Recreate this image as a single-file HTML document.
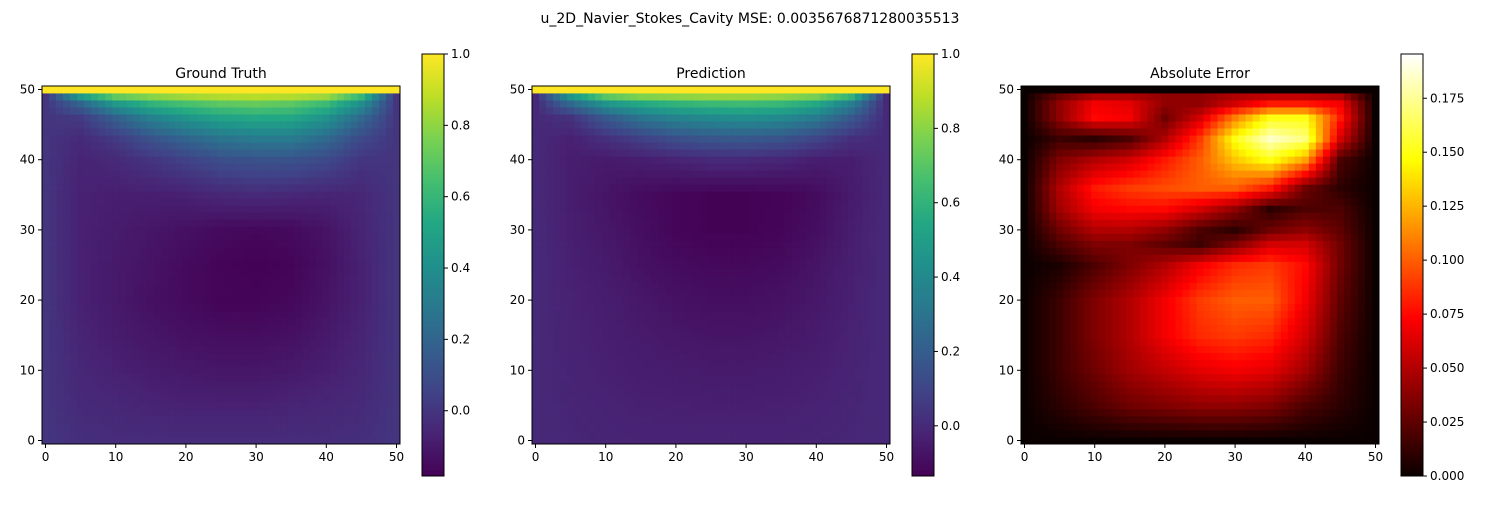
<!DOCTYPE html>
<html><head><meta charset="utf-8"><style>
body{margin:0;background:#fff;font-family:"Liberation Sans","DejaVu Sans",sans-serif}
svg text{font-family:"DejaVu Sans","Liberation Sans",sans-serif}
</style></head><body>
<svg id="chart" width="1500" height="500" viewBox="0 0 1500 500">
<text x="750" y="23" text-anchor="middle" font-size="14">u_2D_Navier_Stokes_Cavity MSE: 0.0035676871280035513</text>
</svg>
<script>
const xsGrid=[0,5,10,15,20,25,30,35,40,45,50];
const gtRowsY=[0,5,10,15,20,25,30,35,40,43,46,48,49,50];
const gtValues=[
[0,-0.02,-0.03,-0.03,-0.03,-0.03,-0.03,-0.03,-0.03,-0.02,0],
[0,-0.04,-0.05,-0.06,-0.07,-0.07,-0.07,-0.06,-0.05,-0.04,0],
[0,-0.05,-0.07,-0.09,-0.10,-0.11,-0.11,-0.10,-0.08,-0.05,0],
[0,-0.06,-0.09,-0.11,-0.13,-0.14,-0.14,-0.13,-0.10,-0.06,0],
[0,-0.07,-0.10,-0.13,-0.15,-0.17,-0.17,-0.16,-0.12,-0.07,0],
[0,-0.07,-0.10,-0.12,-0.15,-0.17,-0.18,-0.17,-0.13,-0.07,0],
[0,-0.07,-0.09,-0.11,-0.13,-0.15,-0.16,-0.15,-0.12,-0.06,0],
[0,-0.07,-0.08,-0.08,-0.07,-0.05,-0.04,-0.05,-0.06,-0.05,0],
[0,-0.06,-0.04,0,0.05,0.1,0.12,0.12,0.08,0,0],
[0,-0.04,0.02,0.12,0.2,0.27,0.3,0.3,0.22,0.08,0],
[0,0.02,0.18,0.33,0.43,0.5,0.53,0.52,0.42,0.22,0],
[0,0.2,0.45,0.58,0.65,0.7,0.72,0.7,0.62,0.4,0],
[0,0.45,0.7,0.78,0.83,0.86,0.87,0.86,0.82,0.6,0],
[1,1,1,1,1,1,1,1,1,1,1]];
const predRowsY=[0,10,20,25,30,35,40,43,46,48,49,50];
const predValues=[
[0,-0.01,-0.015,-0.02,-0.02,-0.02,-0.02,-0.02,-0.015,-0.01,0],
[0,-0.02,-0.03,-0.04,-0.045,-0.05,-0.05,-0.045,-0.035,-0.02,0],
[0,-0.025,-0.04,-0.06,-0.08,-0.09,-0.09,-0.08,-0.06,-0.03,0],
[0,-0.03,-0.05,-0.08,-0.1,-0.11,-0.11,-0.1,-0.07,-0.035,0],
[0,-0.035,-0.06,-0.09,-0.12,-0.13,-0.13,-0.12,-0.09,-0.04,0],
[0,-0.04,-0.07,-0.1,-0.12,-0.13,-0.13,-0.125,-0.1,-0.05,0],
[0,-0.04,-0.05,-0.04,-0.02,0,0,-0.01,-0.04,-0.04,0],
[0,-0.03,0.02,0.08,0.14,0.17,0.18,0.16,0.1,0.02,0],
[0,0.03,0.18,0.3,0.37,0.4,0.42,0.4,0.33,0.18,0],
[0,0.25,0.45,0.55,0.6,0.63,0.64,0.62,0.55,0.35,0],
[0,0.45,0.7,0.78,0.8,0.82,0.82,0.8,0.76,0.6,0],
[1,1,1,1,1,1,1,1,1,1,1]];
const errRowsY=[0,5,10,15,20,25,28,30,33,36,40,43,46,48,49,50];
const errValues=[
[0,0,0,0,0,0,0,0,0,0,0],
[0,0.01,0.02,0.03,0.035,0.04,0.04,0.035,0.02,0.01,0],
[0,0.015,0.03,0.045,0.055,0.065,0.07,0.065,0.045,0.015,0],
[0,0.015,0.035,0.05,0.07,0.085,0.09,0.085,0.06,0.02,0],
[0,0.015,0.035,0.05,0.07,0.09,0.1,0.1,0.07,0.025,0],
[0,0.005,0.02,0.035,0.05,0.07,0.085,0.09,0.075,0.03,0],
[0,0.02,0.035,0.035,0.025,0.015,0.035,0.06,0.06,0.03,0],
[0,0.03,0.05,0.05,0.04,0.02,0.01,0.03,0.04,0.025,0],
[0,0.045,0.07,0.075,0.075,0.06,0.04,0.01,0.02,0.02,0],
[0,0.05,0.08,0.09,0.095,0.1,0.1,0.08,0.03,0.01,0],
[0,0.035,0.05,0.06,0.08,0.1,0.13,0.15,0.12,0.02,0],
[0,0.015,0.01,0.02,0.05,0.09,0.15,0.185,0.17,0.06,0],
[0,0.04,0.075,0.07,0.03,0.06,0.11,0.15,0.15,0.08,0],
[0,0.04,0.07,0.065,0.04,0.04,0.06,0.08,0.08,0.07,0],
[0,0.03,0.05,0.05,0.04,0.04,0.05,0.055,0.055,0.05,0],
[0,0,0,0,0,0,0,0,0,0,0]];
const axisTicks=[0,10,20,30,40,50];
const gtCbTicks=[0,0.2,0.4,0.6,0.8,1.0];
const predCbTicks=[0,0.2,0.4,0.6,0.8,1.0];
const errCbTicks=[0,0.025,0.05,0.075,0.1,0.125,0.15,0.175];

const NS='http://www.w3.org/2000/svg';
const svg=document.getElementById('chart');
function mk(tag,attrs,parent){const e=document.createElementNS(NS,tag);for(const k in attrs)e.setAttribute(k,attrs[k]);(parent||svg).appendChild(e);return e;}
const VIR=[[68,1,84],[72,35,116],[64,67,135],[52,94,141],[41,120,142],[32,144,140],[34,167,132],[68,190,112],[121,209,81],[189,222,38],[253,231,37]];
function viridis(t){t=Math.max(0,Math.min(1,t));const p=t*10,i=Math.min(9,Math.floor(p)),f=p-i;const a=VIR[i],b=VIR[i+1];return 'rgb('+a.map((v,k)=>Math.round(v+(b[k]-v)*f)).join(',')+')';}
function hot(t){t=Math.max(0,Math.min(1,t));const r=Math.min(1,t/0.375),g=Math.max(0,Math.min(1,(t-0.375)/0.375)),b=Math.max(0,Math.min(1,(t-0.75)/0.25));return 'rgb('+Math.round(10+245*r)+','+Math.round(255*g)+','+Math.round(255*b)+')';}
function sample(rowsY,vals,x,y){
 let j=0;while(j<rowsY.length-2&&y>rowsY[j+1])j++;
 const fy=(y-rowsY[j])/(rowsY[j+1]-rowsY[j]);
 let i=Math.min(9,Math.floor(x/5));const fx=(x-xsGrid[i])/5;
 const a=vals[j][i]+(vals[j][i+1]-vals[j][i])*fx;
 const b=vals[j+1][i]+(vals[j+1][i+1]-vals[j+1][i])*fx;
 return a+(b-a)*fy;}
function panel(name,title,left,rowsY,vals,cmap,vmin,vmax,cbx,cbTicks,fmt){
 const top=86,size=358,g=mk('g',{},svg);
 
 
 const sx=v=>left+(v+0.5)/51*size, sy=v=>top+size-(v+0.5)/51*size;
 const cw=size/51;
 for(let yy=0;yy<=50;yy++)for(let xx=0;xx<=50;xx++){
  const v=sample(rowsY,vals,xx,yy);
  const r=mk('rect',{x:(sx(xx)-cw/2).toFixed(2),y:(sy(yy)-cw/2).toFixed(2),width:(cw+0.4).toFixed(2),height:(cw+0.4).toFixed(2),fill:cmap((v-vmin)/(vmax-vmin))},g);
  
  
 }
 const fr=mk('rect',{x:left,y:top,width:size,height:size,fill:'none',stroke:'#000','stroke-width':1},g);
 
 
 const t=mk('text',{x:left+size/2,y:top-8,'text-anchor':'middle','font-size':'14'},g);t.textContent=title;
 
 
 axisTicks.forEach(v=>{
  mk('line',{x1:sx(v),x2:sx(v),y1:top+size,y2:top+size+4,stroke:'#000'},g);
  const tx=mk('text',{x:sx(v),y:top+size+17,'text-anchor':'middle','font-size':'12'},g);tx.textContent=v;
  
  
  mk('line',{x1:left-4,x2:left,y1:sy(v),y2:sy(v),stroke:'#000'},g);
  const ty=mk('text',{x:left-7,y:sy(v)+4,'text-anchor':'end','font-size':'12'},g);ty.textContent=v;
  
  
 });
 const cbTop=54,cbH=422,cbW=22,cg=mk('g',{},svg);
 
 
 for(let k=0;k<211;k++){mk('rect',{x:cbx,y:cbTop+cbH-(k+1)*2,width:cbW,height:2.5,fill:cmap((k+0.5)/211)},cg);}
 mk('rect',{x:cbx,y:cbTop,width:cbW,height:cbH,fill:'none',stroke:'#000'},cg);
 const cy=v=>cbTop+cbH-(v-vmin)/(vmax-vmin)*cbH;
 cbTicks.forEach(v=>{
  mk('line',{x1:cbx+cbW,x2:cbx+cbW+4,y1:cy(v),y2:cy(v),stroke:'#000'},cg);
  const l=mk('text',{x:cbx+cbW+7,y:cy(v)+4,'font-size':'12'},cg);l.textContent=fmt(v);
  
  
 });
}
panel('ground-truth','Ground Truth',42,gtRowsY,gtValues,viridis,-0.183,1.0,422,gtCbTicks,v=>v.toFixed(1));
panel('prediction','Prediction',532,predRowsY,predValues,viridis,-0.135,1.0,912,predCbTicks,v=>v.toFixed(1));
panel('absolute-error','Absolute Error',1021,errRowsY,errValues,hot,0,0.1955,1401,errCbTicks,v=>v.toFixed(3));
</script>
</body></html>
